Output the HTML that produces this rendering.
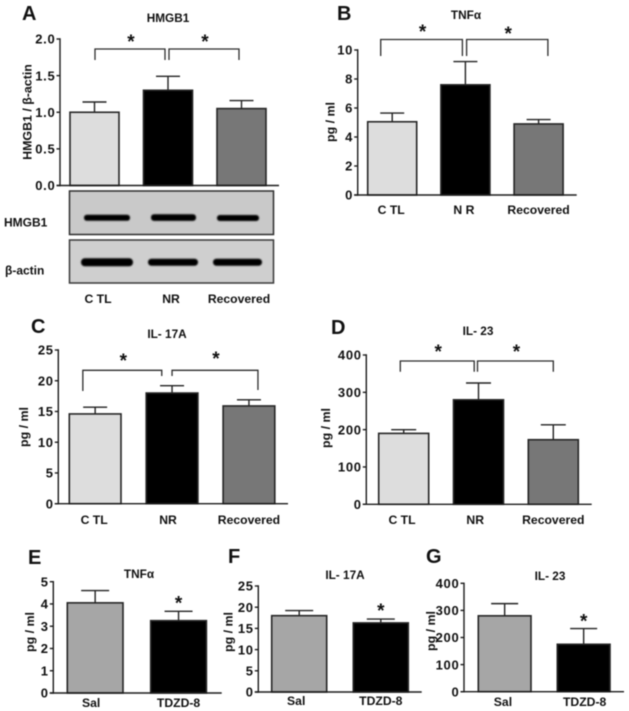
<!DOCTYPE html>
<html lang="en">
<head>
<meta charset="utf-8">
<title>HMGB1 and cytokine bar charts</title>
<style>
html,body{margin:0;padding:0;background:#fff;width:629px;height:711px;overflow:hidden}
svg{display:block;filter:blur(.4px)}
text{font-family:"Liberation Sans",Arial,sans-serif;font-weight:bold;fill:#111}
.letter{font-size:20px}
.title{font-size:11.8px;text-anchor:middle}
.ytitle{font-size:12.4px;text-anchor:middle}
.tick{font-size:13px;text-anchor:end;letter-spacing:.7px}
.xlabel{font-size:12.2px;text-anchor:middle}
.star{font-size:19px;text-anchor:middle}
.blot-label{font-size:12px}
</style>
</head>
<body>
<svg xmlns="http://www.w3.org/2000/svg" width="629" height="711" viewBox="0 0 629 711">
<defs><filter id="band-blur" x="-10%" y="-60%" width="120%" height="220%"><feGaussianBlur stdDeviation="0.8"/></filter></defs>
<rect width="629" height="711" fill="#fff"/>

<g id="panel-a">
<text class="letter" x="22" y="20">A</text>
<text class="title" x="168" y="22">HMGB1</text>
<text class="ytitle" transform="translate(31.5,112) rotate(-90)">HMGB1 / β-actin</text>
</g>
<g>
<rect x="69.5" y="191" width="204" height="43.5" fill="#c9c9c9" stroke="#2e2e2e" stroke-width="1.5"/>
<rect x="69.5" y="240" width="204" height="43" fill="#cfcfcf" stroke="#3a3a3a" stroke-width="1.5"/>
<g filter="url(#band-blur)" fill="#000">
<rect x="84" y="214.8" width="46" height="6" rx="2.8"/>
<rect x="151" y="214.3" width="45" height="6.6" rx="3"/>
<rect x="217" y="215" width="42" height="6" rx="2.8"/>
<rect x="81" y="258.2" width="52" height="8" rx="3.8"/>
<rect x="148" y="258.8" width="50" height="7" rx="3.4"/>
<rect x="213" y="258.8" width="49" height="7" rx="3.4"/>
</g>
<text class="blot-label" x="4" y="226.5">HMGB1</text>
<text class="blot-label" x="5" y="274.5">β-actin</text>
</g>

<g id="panel-b">
<text class="letter" x="337" y="20">B</text>
<text class="title" x="466" y="19">TNFα</text>
<text class="ytitle" transform="translate(334.5,122) rotate(-90)">pg / ml</text>
</g>
<g id="panel-c">
<text class="letter" x="31" y="333">C</text>
<text class="title" x="167" y="338">IL- 17A</text>
<text class="ytitle" transform="translate(28,427) rotate(-90)">pg / ml</text>
</g>
<g id="panel-d">
<text class="letter" x="331" y="334">D</text>
<text class="title" x="478" y="335">IL- 23</text>
<text class="ytitle" transform="translate(330,428) rotate(-90)">pg / ml</text>
</g>
<g id="panel-e">
<text class="letter" x="28" y="564">E</text>
<text class="title" x="139" y="578">TNFα</text>
<text class="ytitle" transform="translate(34,632) rotate(-90)">pg / ml</text>
</g>
<g id="panel-f">
<text class="letter" x="228" y="563">F</text>
<text class="title" x="345" y="579">IL- 17A</text>
<text class="ytitle" transform="translate(232.5,632) rotate(-90)">pg / ml</text>
</g>
<g id="panel-g">
<text class="letter" x="426" y="563">G</text>
<text class="title" x="550" y="580">IL- 23</text>
<text class="ytitle" transform="translate(435,631) rotate(-90)">pg / ml</text>
</g>
</svg>

<script>
// ---- chart data ----
var aCategories = ["C TL", "NR", "Recovered"];
var aValues = [1.0, 1.3, 1.05];
var aErrorTops = [1.14, 1.49, 1.16];
var aTicks = ["0.0", "0.5", "1.0", "1.5", "2.0"];

var bCategories = ["C TL", "N R", "Recovered"];
var bValues = [5.05, 7.6, 4.9];
var bErrorTops = [5.65, 9.2, 5.2];
var bTicks = ["0", "2", "4", "6", "8", "10"];

var cCategories = ["C TL", "NR", "Recovered"];
var cValues = [14.6, 18, 15.9];
var cErrorTops = [15.7, 19.2, 16.9];
var cTicks = ["0", "5", "10", "15", "20", "25"];

var dCategories = ["C TL", "NR", "Recovered"];
var dValues = [190, 280, 173];
var dErrorTops = [200, 325, 213];
var dTicks = ["0", "100", "200", "300", "400"];

var eCategories = ["Sal", "TDZD-8"];
var eValues = [4.05, 3.25];
var eErrorTops = [4.6, 3.67];
var eTicks = ["0", "1", "2", "3", "4", "5"];

var fCategories = ["Sal", "TDZD-8"];
var fValues = [18, 16.3];
var fErrorTops = [19.2, 17.2];
var fTicks = ["0", "5", "10", "15", "20", "25"];

var gCategories = ["Sal", "TDZD-8"];
var gValues = [280, 175];
var gErrorTops = [325, 233];
var gTicks = ["0", "100", "200", "300", "400"];

// ---- panel layout ----
var threeFills = ["#dddddd", "#000000", "#777777"];
var twoFills = ["#a6a6a6", "#000000"];

var panels = [
  {id:"panel-a", cats:aCategories, vals:aValues, errs:aErrorTops, ticks:aTicks, axisX:60, y0:185.5, yTop:39, firstBar:70, barW:49, step:73.5, axisEnd:279, capHalf:12, fills:threeFills, labelY:303, labelDx:[3.5,3,-2.5],
   brackets:[{top:49, ends:[[0,0.5,60],[1,-3,60]], starY:38},{top:49, ends:[[1,1,60],[2,-2.5,60]], starY:38}]},
  {id:"panel-b", cats:bCategories, vals:bValues, errs:bErrorTops, ticks:bTicks, axisX:357.7, y0:195, yTop:50, firstBar:367.7, barW:49, step:73.2, axisEnd:576.7, capHalf:12, fills:threeFills, labelY:214, labelDx:[-1,-1.5,0],
   brackets:[{top:39.5, ends:[[0,-11.5,56],[1,-3,56]], starY:28},{top:39.5, ends:[[1,1.2,56],[2,9.3,56]], starY:30}]},
  {id:"panel-c", cats:cCategories, vals:cValues, errs:cErrorTops, ticks:cTicks, axisX:58.3, y0:503.7, yTop:350, firstBar:69.3, barW:51.7, step:76.9, axisEnd:288, capHalf:12, fills:threeFills, labelY:524, labelDx:[-1,-4,0],
   brackets:[{top:370.3, ends:[[0,-12.3,391],[1,-10.3,376]], starY:357},{top:370.3, ends:[[1,0,376],[2,9,390]], starY:355}]},
  {id:"panel-d", cats:dCategories, vals:dValues, errs:dErrorTops, ticks:dTicks, axisX:366.3, y0:504.3, yTop:355, firstBar:378.7, barW:50, step:74.8, axisEnd:591.7, capHalf:12.5, fills:threeFills, labelY:524, labelDx:[-1.7,-3.3,0],
   brackets:[{top:361, ends:[[0,-3.4,371.7],[1,-4.3,371.7]], starY:348},{top:361, ends:[[1,-1,371.7],[2,0,371.7]], starY:348}]},
  {id:"panel-e", cats:eCategories, vals:eValues, errs:eErrorTops, ticks:eTicks, axisX:53.3, y0:693, yTop:581.7, firstBar:67.3, barW:55.7, step:83.4, axisEnd:221.7, capHalf:14, fills:twoFills, labelY:707, labelDx:[-4,0], starIndex:1, starGap:12},
  {id:"panel-f", cats:fCategories, vals:fValues, errs:fErrorTops, ticks:fTicks, axisX:258.3, y0:692, yTop:586, firstBar:271.7, barW:55, step:81.6, axisEnd:421.7, capHalf:14, fills:twoFills, labelY:705, labelDx:[-3,0], starIndex:1, starGap:12},
  {id:"panel-g", cats:gCategories, vals:gValues, errs:gErrorTops, ticks:gTicks, axisX:464, y0:691.7, yTop:583.3, firstBar:478.3, barW:52.7, step:79, axisEnd:624, capHalf:13.5, fills:twoFills, labelY:706, labelDx:[-1.7,1], starIndex:1, starGap:11}
];

var NS = "http://www.w3.org/2000/svg";
var INK = "#222222";

function make(parent, tag, attrs, content) {
  var node = document.createElementNS(NS, tag);
  for (var k in attrs) { node.setAttribute(k, attrs[k]); }
  if (content !== undefined) { node.textContent = content; }
  parent.appendChild(node);
  return node;
}

function line(parent, x1, y1, x2, y2, w, color) {
  return make(parent, "line", {x1:x1, y1:y1, x2:x2, y2:y2, stroke:color || INK, "stroke-width":w || 1.4});
}

function drawStar(parent, x, cy) {
  var el = make(parent, "text", {"class":"star", x:x, y:cy + 10}, "*");
  
  
}

panels.forEach(function (p) {
  var root = document.getElementById(p.id);
  var maxTick = parseFloat(p.ticks[p.ticks.length - 1]);
  var yScale = function (v) { return p.y0 - (v / maxTick) * (p.y0 - p.yTop); };
  var xLeft = function (i) { return p.firstBar + p.step * i; };
  var xCenter = function (i) { return xLeft(i) + p.barW / 2; };

  // bars and error bars
  p.vals.forEach(function (v, i) {
    var cx = xCenter(i);
    var errTop = yScale(p.errs[i]);
    var errGroup = make(root, "g", {});
    
    
    line(errGroup, cx, yScale(v), cx, errTop, 1.4);
    line(errGroup, cx - p.capHalf, errTop, cx + p.capHalf, errTop, 1.4);

    var bar = make(root, "rect", {x:xLeft(i), y:yScale(v), width:p.barW, height:p.y0 - yScale(v), fill:p.fills[i], stroke:"#262626", "stroke-width":1.6});
    
    

    var label = make(root, "text", {"class":"xlabel", x:cx + p.labelDx[i], y:p.labelY}, p.cats[i]);
    
    
  });

  // axes
  var axisGroup = make(root, "g", {});
  
  
  line(axisGroup, p.axisX, p.yTop - 0.7, p.axisX, p.y0 + 0.7, 1.4, "#1c1c1c");
  line(axisGroup, p.axisX - 3.5, p.y0, p.axisEnd, p.y0, 1.4, "#1c1c1c");

  p.ticks.forEach(function (t) {
    var ty = yScale(parseFloat(t));
    line(axisGroup, p.axisX - 3.5, ty, p.axisX, ty, 1.4, "#1c1c1c");
    var tick = make(root, "text", {"class":"tick", x:p.axisX - 4.6, y:ty + 4.7}, t);
    
    
  });

  // significance brackets
  (p.brackets || []).forEach(function (b) {
    var xa = xCenter(b.ends[0][0]) + b.ends[0][1];
    var xb = xCenter(b.ends[1][0]) + b.ends[1][1];
    var path = make(root, "path", {d:"M" + xa + " " + b.ends[0][2] + "V" + b.top + "H" + xb + "V" + b.ends[1][2], fill:"none", stroke:"#2c2c2c", "stroke-width":1.3});
    
    
    drawStar(root, (xa + xb) / 2 + 1, b.starY);
  });

  // star directly above an error bar
  if (p.starIndex !== undefined) {
    drawStar(root, xCenter(p.starIndex), yScale(p.errs[p.starIndex]) - p.starGap);
  }
});
</script>
</body>
</html>
